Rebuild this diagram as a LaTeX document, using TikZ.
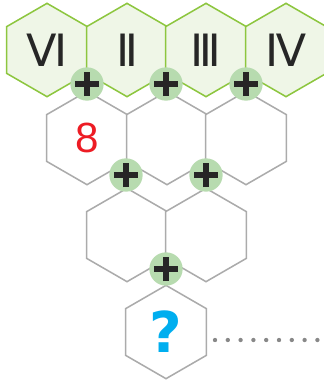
\documentclass[tikz,border=0pt]{standalone}
\usepackage{fontspec}
\setmainfont{DejaVu Sans}
\newfontfamily\digitfont{Liberation Sans}
\usepackage{xcolor}
\usetikzlibrary{shapes.geometric, positioning, calc}
\definecolor{hexgreen}{RGB}{141,198,63}
\definecolor{hexfill}{RGB}{239,246,231}
\definecolor{plusfill}{RGB}{183,219,175}
\definecolor{hexgray}{RGB}{171,171,171}
\definecolor{dotgray}{RGB}{136,136,136}
\definecolor{numred}{RGB}{237,28,36}
\definecolor{askblue}{RGB}{0,174,239}
\tikzset{
  hexbase/.style={
    regular polygon, regular polygon sides=6, shape border rotate=30,
    minimum size=2.8cm, inner sep=0pt, line width=1.3pt
  },
  tophex/.style={
    hexbase, draw=hexgreen, fill=hexfill, font=\fontsize{38}{38}\selectfont,
    text=black!85
  },
  cellhex/.style={
    hexbase, draw=hexgray, fill=white
  },
  plusdot/.style={
    circle, minimum size=1.0cm, inner sep=0pt, fill=plusfill
  },
  plusbar/.style={line width=0.17cm, color=black!85},
  dotline/.style={
    line width=0.13cm, color=dotgray, line cap=round,
    dash pattern=on 0pt off 0.384cm
  }
}

\begin{document}
\begin{tikzpicture}[x=0.03cm, y=-0.03cm]
  \useasboundingbox (0,0) rectangle (323,384);

  % Top row
  \foreach \x/\name/\txt in {47/h1/\char"2165, 127/h2/\char"2161,
                             206/h3/\char"2162, 286/h4/\char"2163} {
    \node[tophex] (\name) at (\x, 50) {\txt};
  }

  % Lower rows
  \node[cellhex, font=\digitfont\fontsize{36}{36}\selectfont, text=numred]
    (c1) at (87, 138) {8};
  \node[cellhex] (c2) at (167, 138) {};
  \node[cellhex] (c3) at (246, 138) {};
  \node[cellhex] (d1) at (127, 235) {};
  \node[cellhex] (d2) at (206, 235) {};
  \node[cellhex, font=\bfseries\fontsize{48}{48}\selectfont, text=askblue]
    (q) at (166, 332) {\raisebox{-0.25cm}{?}};

  % Plus signs
  \foreach \x/\y/\name in {87/84/p1, 166/84/p2, 246/84/p3,
                           126/175/p4, 206/175/p5, 166/269/p6} {
    \node[plusdot] (\name) at (\x, \y) {};
    \draw[plusbar] ([xshift=-0.36cm]\name.center) -- ([xshift=0.36cm]\name.center);
    \draw[plusbar] ([yshift=-0.36cm]\name.center) -- ([yshift=0.36cm]\name.center);
  }

  % Dotted tail
  \coordinate (dotA) at (215, 340);
  \coordinate (dotB) at (318, 340);
  \draw[dotline] (dotA) -- (dotB);
\end{tikzpicture}
\end{document}
